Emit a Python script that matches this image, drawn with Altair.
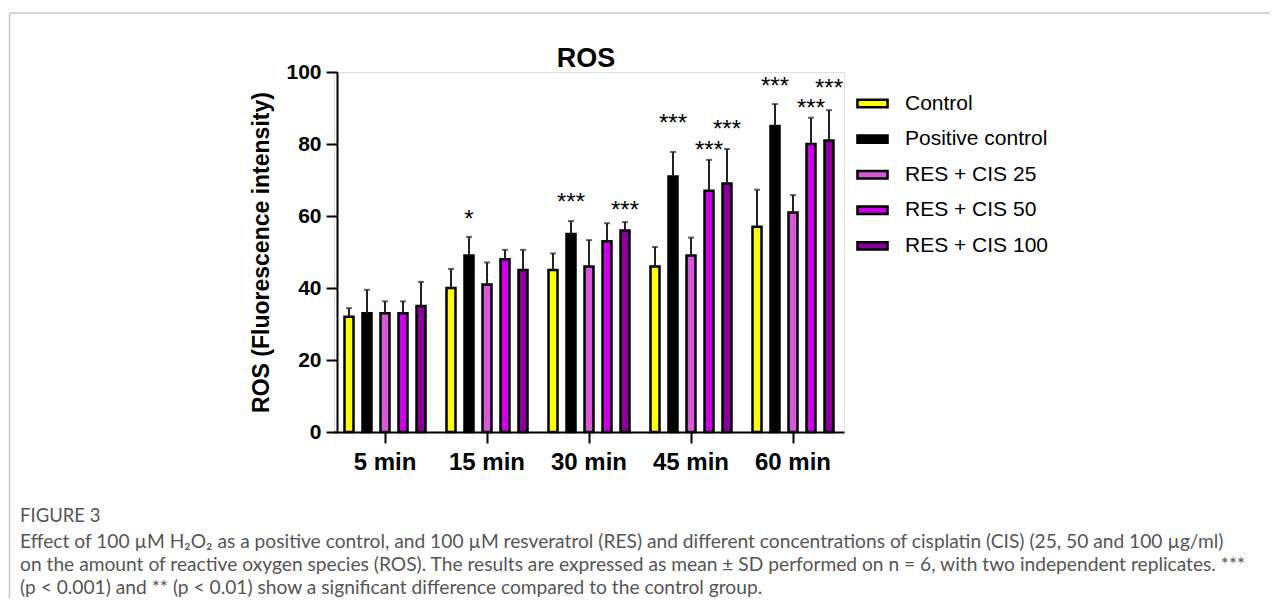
import altair as alt
import pandas as pd

# ---------------- data ----------------
times = ["5 min", "15 min", "30 min", "45 min", "60 min"]
groups = ["Control", "Positive control", "RES + CIS 25", "RES + CIS 50", "RES + CIS 100"]
colors = ["#FFFF00", "#000000", "#D65AD8", "#CC00E6", "#880099"]

mean_control = [32, 40, 45, 46, 57]
mean_positive = [33, 49, 55, 71, 85]
mean_res25 = [33, 41, 46, 49, 61]
mean_res50 = [33, 48, 53, 67, 80]
mean_res100 = [35, 45, 56, 69, 81]

sd_control = [2.4, 5.3, 4.6, 5.4, 10.3]
sd_positive = [6.5, 5.2, 3.6, 6.8, 6.1]
sd_res25 = [3.3, 6.1, 7.3, 5.0, 4.8]
sd_res50 = [3.3, 2.6, 5.0, 8.6, 7.3]
sd_res100 = [6.7, 5.6, 2.3, 9.6, 8.4]

star_time = ["15 min", "30 min", "30 min", "45 min", "45 min", "45 min", "60 min", "60 min", "60 min"]
star_group = ["Positive control", "Positive control", "RES + CIS 100",
              "Positive control", "RES + CIS 50", "RES + CIS 100",
              "Positive control", "RES + CIS 50", "RES + CIS 100"]
star_text = ["*", "***", "***", "***", "***", "***", "***", "***", "***"]
star_level = [60.7, 65.6, 63.4, 87.5, 80.1, 85.7, 97.9, 91.7, 97.1]

caption_head = "FIGURE 3"
caption_lines = [
    "Effect of 100 \u00b5M H\u2082O\u2082 as a positive control, and 100 \u00b5M resveratrol (RES) and different concentrations of cisplatin (CIS) (25, 50 and 100 \u00b5g/ml)",
    "on the amount of reactive oxygen species (ROS). The results are expressed as mean \u00b1 SD performed on n = 6, with two independent replicates. ***",
    "(p < 0.001) and ** (p < 0.01) show a significant difference compared to the control group.",
]

means = [mean_control, mean_positive, mean_res25, mean_res50, mean_res100]
sds = [sd_control, sd_positive, sd_res25, sd_res50, sd_res100]

rows = []
for gi, g in enumerate(groups):
    for ti, t in enumerate(times):
        rows.append({"time": t, "group": g, "mean": means[gi][ti],
                     "upper": means[gi][ti] + sds[gi][ti]})
df = pd.DataFrame(rows)
stars = pd.DataFrame({"time": star_time, "group": star_group,
                      "label": star_text, "level": star_level})

# ---------------- layout ----------------
W, H = 510, 360
PAD = {"left": 326, "top": 64, "right": 426, "bottom": 166}
FONT = "Liberation Sans"
CAP_FONT = "Lato"
CAP_SIZE = 19.2

x_enc = alt.X("time:N", sort=times,
              scale=alt.Scale(domain=times, paddingInner=0, paddingOuter=0),
              axis=alt.Axis(title=None, labelAngle=0, labelFont=FONT, labelFontSize=24,
                            labelFontWeight="bold", labelColor="black", labelPadding=7,
                            tickSize=11, tickWidth=2, tickColor="black",
                            domainWidth=2, domainColor="black"))
xo_enc = alt.XOffset("group:N", sort=groups,
                     scale=alt.Scale(domain=groups, paddingInner=0.5, paddingOuter=0.583))
y_scale = alt.Scale(domain=[0, 100], nice=False, zero=True)

bars = alt.Chart(df).mark_bar(stroke="black", strokeWidth=2.5).encode(
    x=x_enc,
    xOffset=xo_enc,
    y=alt.Y("mean:Q", scale=y_scale, stack=None,
            axis=alt.Axis(values=[0, 20, 40, 60, 80, 100], grid=False,
                          title="ROS (Fluorescence intensity)", titleFont=FONT,
                          titleFontSize=23, titleFontWeight="bold", titleColor="black",
                          titlePadding=12, labelFont=FONT, labelFontSize=21,
                          labelFontWeight="bold", labelColor="black", labelPadding=5,
                          tickSize=11, tickWidth=2, tickColor="black",
                          domainWidth=2, domainColor="black", offset=-3)),
    fill=alt.Fill("group:N", sort=groups,
                  scale=alt.Scale(domain=groups, range=colors),
                  legend=alt.Legend(orient="none", legendX=521, legendY=14, title=None,
                                    symbolType="M-0.94,-0.23H0.94V0.23H-0.94Z",
                                    symbolSize=1024, symbolStrokeColor="black",
                                    symbolStrokeWidth=2.5, labelFont=FONT,
                                    labelFontSize=21, labelColor="black",
                                    labelOffset=15, rowPadding=7.6, padding=0)),
)

err = alt.Chart(df).mark_rule(color="#222222", strokeWidth=2).encode(
    x=alt.X("time:N", sort=times), xOffset=alt.XOffset("group:N", sort=groups),
    y=alt.Y("mean:Q"), y2="upper:Q")

caps = alt.Chart(df).mark_tick(color="#222222", thickness=2, size=6,
                               orient="horizontal").encode(
    x=alt.X("time:N", sort=times), xOffset=alt.XOffset("group:N", sort=groups),
    y=alt.Y("upper:Q"))

star_layer = alt.Chart(stars).mark_text(font=FONT, fontSize=24, color="black",
                                        baseline="alphabetic", dy=14).encode(
    x=alt.X("time:N", sort=times), xOffset=alt.XOffset("group:N", sort=groups),
    y=alt.Y("level:Q"), text="label:N")

one = pd.DataFrame({"k": [1]})
title_layer = alt.Chart(one).mark_text(text="ROS", font=FONT, fontSize=27,
                                       fontWeight="bold", align="center",
                                       baseline="alphabetic", color="black").encode(
    x=alt.value(252), y=alt.value(-5))

border_top = alt.Chart(one).mark_rule(color="#c8c8c8", strokeWidth=1.5).encode(
    x=alt.value(-324.5), x2=alt.value(940), y=alt.value(-59))
border_left = alt.Chart(one).mark_rule(color="#c8c8c8", strokeWidth=1.5).encode(
    x=alt.value(-324.5), y=alt.value(-59), y2=alt.value(530))

cap_layers = [alt.Chart(one).mark_text(text=caption_head, font=CAP_FONT, fontSize=18.5,
                                       color="#555555", align="left",
                                       baseline="middle").encode(
    x=alt.value(-314), y=alt.value(444))]
for i, line in enumerate(caption_lines):
    cap_layers.append(alt.Chart(one).mark_text(text=line, font=CAP_FONT, fontSize=CAP_SIZE,
                                               color="#555555", align="left",
                                               baseline="middle").encode(
        x=alt.value(-314), y=alt.value(470 + 22.8 * i)))

chart = alt.layer(border_top, border_left, bars, err, caps, star_layer, title_layer,
                  *cap_layers).properties(
    width=W, height=H,
    autosize=alt.AutoSizeParams(type="none"),
    padding=PAD,
).configure_view(stroke=None).configure(background="white")

chart.save("out.html", embed_options={"renderer": "svg", "actions": False})
